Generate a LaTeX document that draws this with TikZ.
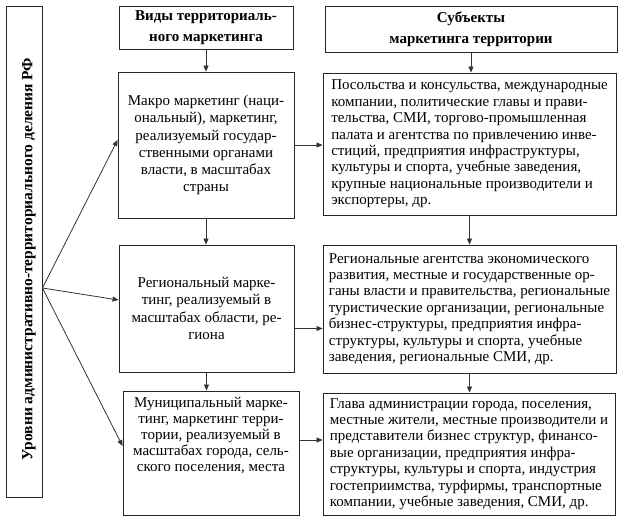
\documentclass[tikz,border=0pt]{standalone}
\usepackage{fontspec}
\setmainfont{Liberation Serif}
\usetikzlibrary{arrows.meta}

\tikzset{
  box/.style={draw=black!85, line width=0.9pt, inner sep=0pt},
  txt/.style={font=\fontsize{15}{17.2}\selectfont, align=center},
  ltxt/.style={font=\fontsize{15}{16.4}\selectfont, align=left},
  head/.style={font=\bfseries\fontsize{15}{21}\selectfont, align=center},
  arr/.style={-{Triangle[length=6pt,width=5pt]}, draw=black!80, line width=0.8pt}
}

\begin{document}
\begin{tikzpicture}[x=1pt,y=-1pt]
    \useasboundingbox (0,0) rectangle (624,522);

    % levels
    \node [box, minimum width=36pt, minimum height=491pt] (lvl) at (24,251.5) {};
    \node [head, font=\bfseries\fontsize{15.5}{18}\selectfont, rotate=90] (lvltxt) at (29,259)
        {Уровни административно-территориального деления РФ};

    % headers
    \node [box, head, minimum width=174pt, minimum height=43pt] (kinds) at (206,27.5)
        {Виды территориаль-\\ного маркетинга};
    \node [box, head, minimum width=292pt, minimum height=46pt] (subj) at (471,29)
        {Субъекты\\маркетинга территории};

    % kinds of marketing
    \node [box, txt, minimum width=176pt, minimum height=146pt] (macro) at (206,145)
        {Макро маркетинг (наци-\\ональный), маркетинг,\\реализуемый государ-\\ственными органами\\власти, в масштабах\\страны};
    \node [box, txt, minimum width=175pt, minimum height=127pt] (region) at (206.5,308.5)
        {Региональный марке-\\тинг,  реализуемый в\\масштабах области, ре-\\гиона};
    \node [box, minimum width=176pt, minimum height=124pt] (muni) at (211,453) {};
    \node [txt, font=\fontsize{15}{16}\selectfont, anchor=north] (munitxt) at ([yshift=-3pt]muni.north)
        {Муниципальный марке-\\тинг, маркетинг терри-\\тории, реализуемый в\\масштабах города, сель-\\ского поселения, места};

    % subjects
    \node [box, ltxt, minimum width=293pt, minimum height=142pt] (natsubj) at (469.5,144)
        {Посольства и консульства, международные\\компании, политические главы и прави-\\тельства, СМИ, торгово-промышленная\\палата и агентства по привлечению инве-\\стиций, предприятия инфраструктуры,\\культуры и спорта, учебные заведения,\\крупные национальные производители и\\экспортеры, др.};
    \node [box, ltxt, minimum width=293pt, minimum height=128pt] (regsubj) at (469.5,309)
        {Региональные агентства экономического\\развития, местные и государственные ор-\\ганы власти и правительства, региональные\\туристические организации,  региональные\\бизнес-структуры, предприятия инфра-\\структуры, культуры и спорта, учебные\\заведения, региональные СМИ, др.};
    \node [box, ltxt, minimum width=292pt, minimum height=122pt] (munisubj) at (469,454)
        {Глава администрации города, поселения,\\местные жители, местные производители и\\представители бизнес структур, финансо-\\вые организации, предприятия инфра-\\структуры, культуры и спорта, индустрия\\гостеприимства, турфирмы, транспортные\\компании, учебные заведения, СМИ, др.};

    % vertical arrows
    \draw [arr] (kinds.south) -- (kinds.south |- macro.north);
    \draw [arr] (macro.south) -- (macro.south |- region.north);
    \draw [arr] (region.south) -- (region.south |- muni.north);
    \draw [arr] (subj.south) -- (subj.south |- natsubj.north);
    \draw [arr] (natsubj.south) -- (natsubj.south |- regsubj.north);
    \draw [arr] (regsubj.south) -- (regsubj.south |- munisubj.north);

    % horizontal arrows
    \draw [arr] (macro.east) -- (macro.east -| natsubj.west);
    \draw [arr] ([yshift=-20pt]region.east) -- ([yshift=-20pt]region.east -| regsubj.west);
    \draw [arr] ([yshift=13pt]muni.east) -- ([yshift=13pt]muni.east -| munisubj.west);

    % from levels
    \coordinate (fork) at ([yshift=-36.5pt]lvl.east);
    \draw [arr] (fork) -- ([yshift=5pt]macro.west);
    \draw [arr] (fork) -- ([yshift=8.5pt]region.west);
    \draw [arr] (fork) -- ([yshift=7pt]muni.west);

\end{tikzpicture}
\end{document}
